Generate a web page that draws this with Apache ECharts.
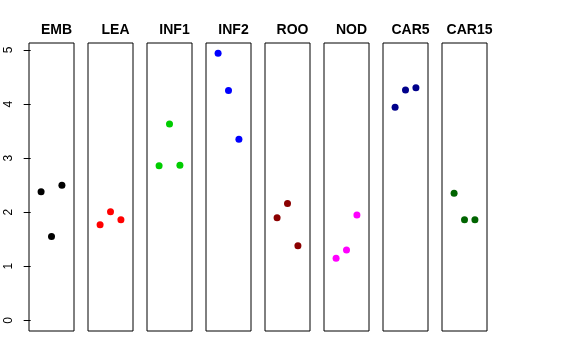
<!DOCTYPE html>
<html><head><meta charset="utf-8">
<script src="https://cdn.jsdelivr.net/npm/echarts@6/dist/echarts.min.js"></script>
<style>html,body{margin:0;padding:0;background:#fff}#c{width:576px;height:360px}</style>
</head><body><div id="c"></div>
<script>
const categories = ['EMB','LEA','INF1','INF2','ROO','NOD','CAR5','CAR15'];
const colors = ['#000000','#FF0000','#00CD00','#0000FF','#8B0000','#FF00FF','#00008B','#006400'];
const xPos = [1, 2, 3];
const EMB = [2.38, 1.55, 2.50];
const LEA = [1.77, 2.01, 1.86];
const INF1 = [2.86, 3.63, 2.87];
const INF2 = [4.94, 4.25, 3.35];
const ROO = [1.90, 2.16, 1.38];
const NOD = [1.15, 1.30, 1.95];
const CAR5 = [3.94, 4.26, 4.30];
const CAR15 = [2.35, 1.86, 1.86];
const seriesValues = [EMB, LEA, INF1, INF2, ROO, NOD, CAR5, CAR15];
const yTicks = [0, 1, 2, 3, 4, 5];

const font = 'Liberation Sans, Arial, Helvetica, sans-serif';
const left0 = 29, step = 59, pw = 45, gTop = 43, ph = 288;
const grids = [], xAxes = [], yAxes = [], series = [], titles = [];
categories.forEach((name, i) => {
  grids.push({left: left0 + step * i, top: gTop, width: pw, height: ph, show: true,
    borderColor: '#000', borderWidth: 1, backgroundColor: 'transparent'});
  xAxes.push({type: 'value', gridIndex: i, min: -0.16, max: 4.16, show: false});
  yAxes.push({type: 'value', gridIndex: i, min: -0.197, max: 5.13,
    show: i === 0,
    axisLine: {show: false},
    splitLine: {show: false},
    axisTick: {show: true, length: 7, lineStyle: {color: '#000'},
      customValues: yTicks},
    axisLabel: {show: true, rotate: 90, margin: 14, fontSize: 12, color: '#000',
      fontFamily: font, customValues: yTicks, formatter: v => String(v)}
  });
  series.push({type: 'scatter', xAxisIndex: i, yAxisIndex: i, symbolSize: 7,
    itemStyle: {color: colors[i], opacity: 1}, silent: true,
    data: xPos.map((x, k) => [x, seriesValues[i][k]])});
  titles.push({text: name, left: left0 + step * i + pw / 2, top: 18, textAlign: 'center',
    textStyle: {fontSize: 14, fontWeight: 'bold', color: '#000', fontFamily: font}});
});
const chart = echarts.init(document.getElementById('c'), null, {renderer: 'canvas'});
chart.setOption({animation: false, backgroundColor: '#fff', title: titles,
  grid: grids, xAxis: xAxes, yAxis: yAxes, series: series});
</script></body></html>
